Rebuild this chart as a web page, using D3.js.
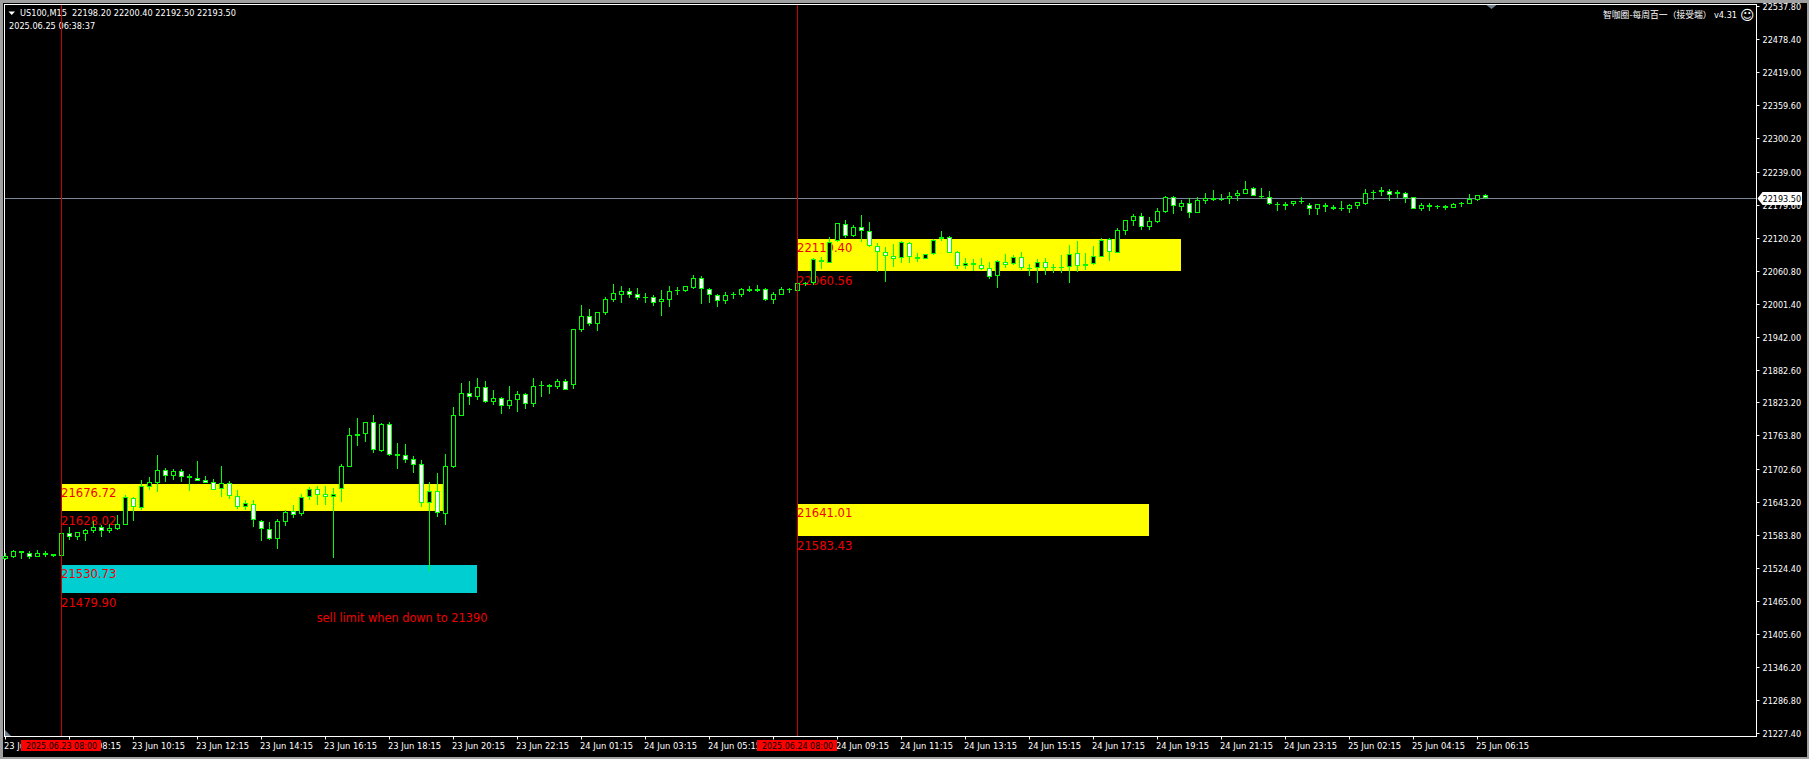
<!DOCTYPE html>
<html><head><meta charset="utf-8">
<style>
html,body{margin:0;padding:0;background:#a0a0a0;overflow:hidden}
svg{display:block}
text{font-family:"DejaVu Sans",sans-serif;font-stretch:condensed}
</style>
<script src="https://cdnjs.cloudflare.com/ajax/libs/d3/7.8.5/d3.min.js"></script>
</head><body>
<script>
const opens=[21540.9,21545.7,21555.3,21551.7,21545.7,21551.7,21550.5,21547.5,21587.7,21581.7,
21587.1,21592.5,21598.5,21592.5,21596.1,21603.3,21650.7,21633.9,21671.7,21678.9,
21701.1,21691.5,21699.3,21690.3,21686.7,21683.1,21679.5,21666.9,21677.7,21655.5,
21635.7,21641.1,21610.5,21594.9,21578.1,21608.7,21628.5,21621.9,21652.5,21666.9,
21657.9,21652.5,21666.9,21707.7,21763.5,21767.1,21787.5,21736.5,21783.9,21729.9,
21728.1,21720.9,21711.9,21642.9,21663.3,21623.1,21707.7,21799.5,21839.7,21833.7,
21850.5,21824.7,21830.7,21817.5,21828.3,21837.9,21821.1,21853.5,21851.7,21851.7,
21861.3,21854.7,21953.7,21978.3,21965.1,21984.3,22007.7,22017.3,22023.3,22017.9,
22011.3,22012.5,22004.7,22008.3,22023.3,22024.5,22029.9,22046.7,22026.9,22016.1,
22005.9,22016.1,22017.3,22024.5,22024.5,22026.9,22008.3,22017.3,22025.1,22024.5,
22037.7,22037.7,22079.1,22074.9,22113.3,22143.9,22123.5,22138.5,22131.3,22104.3,
22093.5,22086.3,22082.7,22109.7,22084.5,22082.1,22089.9,22120.5,22120.5,22093.5,
22068.3,22073.7,22070.1,22064.7,22050.3,22075.5,22071.9,22084.5,22064.7,22064.7,
22075.5,22067.1,22066.5,22066.5,22091.7,22071.9,22073.1,22085.7,22116.9,22092.9,
22132.5,22150.5,22158.3,22139.1,22148.7,22166.7,22192.5,22175.7,22181.7,22164.9,
22186.5,22190.7,22188.9,22189.5,22195.5,22199.1,22208.7,22194.9,22192.5,22180.5,
22176.3,22179.9,22184.7,22178.1,22172.1,22179.3,22174.5,22173.3,22172.1,22176.3,
22181.1,22200.3,22202.7,22204.5,22198.5,22200.9,22192.5,22172.1,22178.7,22176.9,
22176.3,22173.9,22179.9,22181.1,22188.3,22196.1];
const highs=[21551.7,21557.7,21555.9,21555.9,21557.7,21556.5,21550.5,21587.7,21599.7,21590.7,
21594.9,21609.9,21602.7,21604.5,21620.7,21656.7,21653.7,21683.7,21688.5,21728.7,
21704.7,21702.9,21702.9,21694.5,21717.9,21690.9,21684.9,21708.9,21681.9,21665.7,
21647.7,21647.7,21611.7,21608.1,21612.9,21629.7,21638.7,21658.5,21671.7,21672.9,
21672.9,21669.3,21712.5,21777.3,21795.3,21787.5,21800.7,21785.7,21788.1,21750.3,
21748.5,21726.9,21719.7,21680.1,21696.3,21730.5,21815.1,21858.3,21861.9,21866.7,
21861.9,21845.7,21832.5,21852.9,21843.9,21839.7,21866.7,21861.9,21856.5,21864.9,
21864.9,21954.9,21998.7,21990.9,21985.5,22012.5,22036.5,22032.9,22029.3,22029.3,
22020.3,22016.1,22025.1,22032.9,22031.1,22032.3,22052.7,22050.9,22029.3,22017.9,
22022.1,22021.5,22029.3,22032.9,22034.7,22029.3,22022.1,22031.1,22029.9,22037.7,
22040.7,22082.7,22084.5,22120.5,22145.7,22151.7,22142.1,22160.7,22147.5,22110.9,
22102.5,22108.5,22113.3,22112.1,22091.7,22090.5,22116.9,22131.3,22122.3,22095.3,
22083.3,22080.9,22082.7,22076.1,22079.7,22089.9,22088.1,22093.5,22072.5,22080.9,
22082.7,22071.9,22088.7,22106.7,22113.9,22091.7,22104.9,22118.7,22118.7,22137.3,
22151.7,22161.9,22164.3,22157.1,22173.3,22194.3,22194.9,22187.7,22190.7,22192.5,
22200.3,22205.7,22198.5,22202.1,22205.7,22221.9,22210.5,22209.3,22203.9,22183.5,
22183.5,22185.9,22192.5,22182.3,22179.9,22182.3,22178.7,22185.9,22179.9,22184.1,
22207.5,22205.7,22211.1,22207.5,22205.7,22202.1,22192.5,22182.3,22181.7,22179.3,
22179.3,22182.3,22184.1,22198.5,22196.1,22198.5];
const lows=[21539.7,21543.9,21542.1,21542.1,21545.7,21544.5,21544.5,21547.5,21575.7,21575.7,
21573.9,21587.7,21581.1,21587.7,21593.7,21602.7,21609.9,21629.7,21665.7,21662.7,
21680.1,21683.7,21680.1,21663.9,21681.9,21677.7,21665.7,21653.7,21649.5,21631.5,
21629.7,21599.7,21573.9,21575.7,21559.5,21600.9,21615.9,21618.9,21647.7,21638.7,
21638.7,21543.9,21644.1,21707.7,21744.9,21752.1,21732.9,21734.1,21727.5,21703.5,
21714.3,21696.3,21635.1,21520.5,21617.1,21602.7,21705.3,21799.5,21818.7,21827.7,
21822.9,21818.7,21802.5,21811.5,21806.1,21811.5,21815.1,21833.1,21838.5,21848.1,
21845.7,21848.1,21950.7,21960.9,21951.9,21980.7,22004.1,22002.3,22011.3,22007.7,
22002.3,21996.9,21978.9,21995.1,22016.7,22022.1,22026.9,22000.5,22002.3,21995.1,
22000.5,22008.9,22013.1,22022.1,22021.5,22005.9,22000.5,22016.1,22020.3,22023.9,
22032.9,22034.7,22064.1,22074.9,22112.1,22119.9,22120.5,22112.7,22103.7,22058.7,
22040.7,22067.7,22074.9,22074.9,22076.7,22082.1,22088.1,22113.3,22091.7,22064.1,
22062.9,22059.3,22061.7,22044.9,22029.9,22064.7,22071.3,22062.3,22050.9,22038.9,
22052.1,22056.9,22056.9,22038.9,22058.1,22061.7,22070.7,22084.5,22077.9,22092.9,
22124.7,22140.9,22134.3,22133.7,22146.3,22163.7,22162.5,22167.9,22155.3,22164.3,
22180.5,22185.9,22186.5,22180.5,22185.9,22198.5,22194.9,22189.5,22178.7,22167.9,
22169.7,22176.9,22180.5,22160.7,22160.7,22166.1,22169.7,22167.9,22164.3,22171.5,
22178.7,22187.7,22194.9,22185.9,22191.3,22182.3,22171.5,22167.9,22167.9,22171.5,
22169.7,22173.3,22175.1,22180.5,22185.9,22190.1];
const closes=[21546.9,21555.3,21551.7,21545.7,21551.7,21548.7,21547.5,21587.7,21581.7,21589.5,
21593.7,21599.1,21592.5,21596.7,21603.9,21652.5,21635.7,21672.3,21679.5,21701.1,
21691.5,21699.3,21689.7,21686.7,21682.5,21678.9,21666.3,21677.7,21655.5,21635.7,
21641.7,21611.1,21596.1,21578.1,21609.3,21626.7,21621.3,21652.5,21666.9,21657.3,
21652.5,21657.9,21708.3,21764.1,21765.9,21787.5,21737.1,21783.9,21728.1,21727.5,
21720.3,21711.3,21642.9,21663.3,21623.7,21708.3,21800.1,21839.7,21833.7,21850.5,
21824.7,21830.7,21817.5,21827.1,21837.9,21821.1,21852.3,21854.1,21854.1,21861.3,
21846.3,21954.9,21978.3,21965.1,21985.5,22008.9,22019.7,22023.3,22017.3,22011.9,
22012.5,22002.9,22008.9,22023.3,22025.1,22032.3,22046.7,22026.9,22016.1,22005.9,
22016.1,22018.5,22026.9,22026.9,22026.9,22008.3,22017.9,22026.9,22027.5,22037.7,
22038.9,22080.9,22075.5,22112.7,22145.7,22123.5,22138.5,22131.3,22104.3,22093.5,
22086.3,22082.1,22111.5,22084.5,22082.1,22089.9,22116.3,22116.9,22092.9,22068.3,
22073.7,22070.1,22064.1,22048.5,22077.3,22071.3,22084.5,22064.7,22063.5,22075.5,
22064.7,22065.3,22065.9,22089.9,22069.5,22069.5,22086.3,22115.1,22093.5,22133.1,
22151.1,22158.3,22138.5,22149.3,22167.3,22192.5,22176.3,22181.7,22164.9,22187.1,
22190.7,22187.1,22187.1,22194.3,22199.7,22206.9,22195.5,22193.1,22181.1,22178.1,
22179.9,22185.3,22185.9,22172.1,22179.9,22174.5,22172.1,22172.1,22178.1,22183.5,
22199.7,22202.7,22205.7,22197.3,22202.1,22191.9,22172.1,22178.1,22175.7,22175.1,
22173.9,22179.9,22182.3,22188.9,22196.1,22190.7];

const priceTicks=[22537.80,22478.40,22419.00,22359.60,22300.20,22239.00,22179.60,22120.20,22060.80,22001.40,21942.00,21882.60,21823.20,21763.80,21702.60,21643.20,21583.80,21524.40,21465.00,21405.60,21346.20,21286.80,21227.40];
const timeTickBars=[0,8,16,24,32,40,48,56,64,72,80,88,96,104,112,120,128,136,144,152,160,168,176,184];
const timeTickLabels=["23 Jun 06:15","23 Jun 08:15","23 Jun 10:15","23 Jun 12:15","23 Jun 14:15","23 Jun 16:15","23 Jun 18:15","23 Jun 20:15","23 Jun 22:15","24 Jun 01:15","24 Jun 03:15","24 Jun 05:15","24 Jun 07:15","24 Jun 09:15","24 Jun 11:15","24 Jun 13:15","24 Jun 15:15","24 Jun 17:15","24 Jun 19:15","24 Jun 21:15","24 Jun 23:15","25 Jun 02:15","25 Jun 04:15","25 Jun 06:15"];

const zoneFrom=[7,7,99,99];
const zoneTo=[55,59,147,143];
const zoneTop=[21676.72,21530.73,22117.5,21641.01];
const zoneBottom=[21628.02,21479.90,22059.9,21583.43];
const zoneColor=["#ffff00","#00ced1","#ffff00","#ffff00"];
const zoneTopLabel=["21676.72","21530.73","22119.40","21641.01"];
const zoneBottomLabel=["21628.02","21479.90","22060.56","21583.43"];
const markerBars=[7,99];
const markerLabels=["2025.06.23 08:00","2025.06.24 08:00"];
const bidLevel=22190.4;
const bidLabel="22193.50";
const headerLine1="US100,M15  22198.20 22200.40 22192.50 22193.50";
const headerLine2="2025.06.25 06:38:37";
const noteText="sell limit when down to 21390";
const noteBar=38.9, notePrice=21428;
const indicatorText="智咖圈-每周百一（接受端）";
const indicatorVersion="v4.31";

const W=1809,H=759;
const left=3,top_=3,axisX=1756.5,axisY=736.5;
const svg=d3.select("body").append("svg").attr("width",W).attr("height",H);
svg.append("rect").attr("width",W).attr("height",H).attr("fill","#a0a0a0");
svg.append("rect").attr("x",left).attr("y",top_).attr("width",W-left-2).attr("height",H-top_-2).attr("fill","#000");

const x=d3.scaleLinear().domain([0,218.875]).range([5.5,axisX]);
const y=d3.scaleLinear().domain([priceTicks[0],priceTicks[priceTicks.length-1]]).range([5.5,733.5]);
const yTicksScale=y.copy().range([6.5,733.5]);

// zones
const zones=svg.append("g");
zones.selectAll("rect").data(zoneFrom).join("rect")
  .attr("x",(d)=>Math.round(x(d)+0.5))
  .attr("width",(d,i)=>Math.floor(x(zoneTo[i]))-Math.round(x(d)+0.5))
  .attr("y",(d,i)=>Math.round(y(zoneTop[i])))
  .attr("height",(d,i)=>Math.round(y(zoneBottom[i]))-Math.round(y(zoneTop[i])))
  .attr("fill",(d,i)=>zoneColor[i]);

// zone labels
const redFont='"Liberation Sans",Arial,sans-serif';
const lab=svg.append("g").attr("fill","#f00000").style("font-family",redFont).style("font-size","12.9px").style("font-stretch","normal");
lab.selectAll("text.t").data(zoneFrom).join("text").attr("class","t")
  .attr("x",d=>x(d)-0.5).attr("y",(d,i)=>Math.round(y(zoneTop[i]))+13).text((d,i)=>zoneTopLabel[i]);
lab.selectAll("text.b").data(zoneFrom).join("text").attr("class","b")
  .attr("x",d=>x(d)-0.5).attr("y",(d,i)=>Math.round(y(zoneBottom[i]))+14).text((d,i)=>zoneBottomLabel[i]);
lab.append("text").attr("x",x(noteBar)).attr("y",y(notePrice)).style("font-size","12.6px").text(noteText);

// bid line
svg.append("line").attr("x1",4).attr("x2",axisX).attr("y1",Math.floor(y(bidLevel))+0.5).attr("y2",Math.floor(y(bidLevel))+0.5).attr("stroke","#778899");

// axes
const xAxis=d3.axisBottom(x).tickValues(timeTickBars).tickSize(3).offset(0)
  .tickFormat((d,i)=>timeTickLabels[i]);
const xg=svg.append("g").attr("transform",`translate(0,${axisY})`).call(xAxis);
xg.select(".domain").remove();
xg.selectAll("line").attr("stroke","#fff");
xg.selectAll("text").attr("text-anchor","start").attr("x",-1.5).attr("y",12.5).attr("dy",0)
  .attr("fill","#fff").style("font-size","9.3px");
const yAxis=d3.axisRight(yTicksScale).tickValues(priceTicks).tickSize(3).offset(0).tickFormat(d3.format(".2f"));
const yg=svg.append("g").attr("transform",`translate(${axisX},0)`).call(yAxis);
yg.select(".domain").remove();
yg.selectAll(".tick").attr("transform",d=>`translate(0,${Math.floor(yTicksScale(d))+0.5})`);
yg.selectAll("line").attr("stroke","#fff");
yg.selectAll("text").attr("x",6).attr("dy",0).attr("y",3.5).attr("fill","#fff").style("font-size","9px");

// frame lines
const frame=svg.append("g").attr("stroke","#fff");
frame.append("line").attr("x1",4).attr("x2",axisX+0.5).attr("y1",4.5).attr("y2",4.5);
frame.append("line").attr("x1",4.5).attr("x2",4.5).attr("y1",4).attr("y2",axisY);
frame.append("line").attr("x1",4).attr("x2",axisX+0.5).attr("y1",axisY).attr("y2",axisY);
frame.append("line").attr("x1",axisX).attr("x2",axisX).attr("y1",4).attr("y2",axisY);

// small chart markers
svg.append("path").attr("d","M5 730 L11 736 L5 736 Z").attr("fill","#708090");
svg.append("path").attr("d",`M${x(185.5)-3} 5 L${x(185.5)+7} 5 L${x(185.5)+2} 9 Z`).attr("fill","#708090");

// candles
const green="#00ff00";
const idx=d3.range(opens.length);
const cg=svg.append("g");
cg.selectAll("rect.w").data(idx).join("rect").attr("class","w")
  .attr("x",i=>x(i)-0.5).attr("width",1)
  .attr("y",i=>Math.round(y(highs[i])))
  .attr("height",i=>Math.max(1,Math.round(y(lows[i]))-Math.round(y(highs[i]))))
  .attr("fill",green);
const bt=i=>Math.round(y(Math.max(opens[i],closes[i])));
const bb=i=>Math.max(bt(i)+1,Math.round(y(Math.min(opens[i],closes[i]))));
cg.selectAll("rect.b").data(idx).join("rect").attr("class","b")
  .attr("x",i=>x(i)-2.5).attr("width",5).attr("y",bt).attr("height",i=>bb(i)-bt(i)).attr("fill",green);
cg.selectAll("rect.i").data(idx.filter(i=>bb(i)-bt(i)>2)).join("rect").attr("class","i")
  .attr("x",i=>x(i)-1.5).attr("width",3).attr("y",i=>bt(i)+1).attr("height",i=>bb(i)-bt(i)-2)
  .attr("fill",i=>closes[i]>=opens[i]?"#000":"#fff");

// header
const head=svg.append("g").attr("fill","#fff").style("font-size","9.1px");
head.append("path").attr("d","M8.5 11.5 L15 11.5 L11.75 15 Z");
head.append("text").attr("x",20).attr("y",16).attr("xml:space","preserve").style("white-space","pre").text(headerLine1);
head.append("text").attr("x",9).attr("y",29).text(headerLine2);
head.append("text").attr("x",1603).attr("y",18).style("font-family",'"Noto Sans CJK SC"').style("font-size","8.8px").text(indicatorText);
head.append("text").attr("x",1714).attr("y",18).text(indicatorVersion);
head.append("text").attr("x",1740).attr("y",19.5).style("font-size","14px").style("font-stretch","normal").text("☺");

// bid tag
const by=Math.floor(y(bidLevel))+0.5;
const tag=svg.append("g");
tag.append("path").attr("d",`M${axisX+1} ${by} L${axisX+6} ${by-6.5} L1802 ${by-6.5} L1802 ${by+6.5} L${axisX+6} ${by+6.5} Z`).attr("fill","#fff");
tag.append("text").attr("x",axisX+6).attr("y",by+3.5).attr("fill","#000").style("font-size","9px").text(bidLabel);

// time markers
const mk=svg.append("g");
mk.selectAll("line").data(markerBars).join("line")
  .attr("x1",d=>x(d)).attr("x2",d=>x(d)).attr("y1",5).attr("y2",axisY-0.5).attr("stroke","#d00000");
mk.selectAll("rect").data(markerBars).join("rect")
  .attr("x",d=>x(d)-40.5).attr("width",80).attr("y",740).attr("height",11).attr("fill","#ff0000");
mk.selectAll("text").data(markerBars).join("text")
  .attr("x",d=>x(d)).attr("y",749).attr("text-anchor","middle").attr("fill","#000").style("font-size","8.9px")
  .text((d,i)=>markerLabels[i]);
</script>
</body></html>
